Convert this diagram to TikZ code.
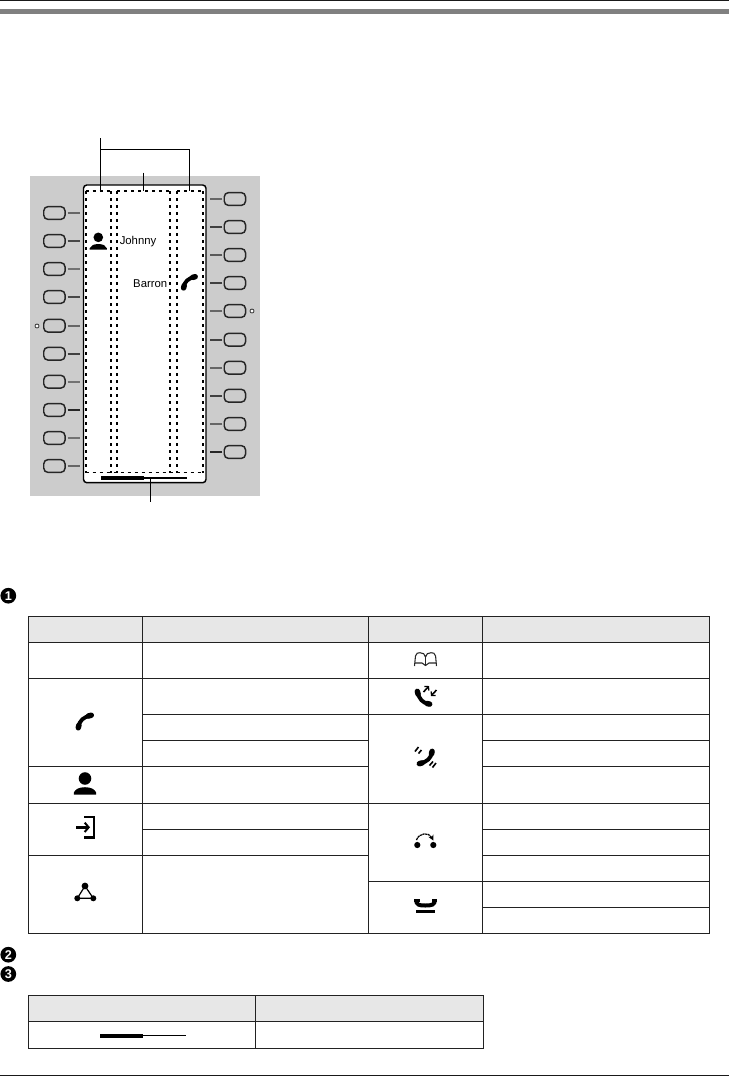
\documentclass[tikz,border=0pt]{standalone}
\usepackage{fontspec}
\setmainfont{Liberation Sans}
\usetikzlibrary{arrows.meta}
\definecolor{panel}{HTML}{CCCCCC}
\definecolor{head}{HTML}{E7E7E7}
\definecolor{rule}{HTML}{222222}
\tikzset{
  btn/.style={draw=black!85,line width=1.1pt,fill=panel,rounded corners=3.2pt,minimum width=16pt,minimum height=9.6pt,inner sep=0pt},
  led/.style={line width=1.25pt},
  dots/.style={line width=1.45pt,dash pattern=on 2.6pt off 2.65pt,black},
  leader/.style={line width=0.8pt,black},
  grid/.style={line width=0.75pt,rule},
  bullet/.style={circle,fill=black,text=white,inner sep=0pt,minimum size=11.8pt,font=\fontsize{9.5}{9.5}\selectfont\bfseries},
  lab/.style={inner sep=0pt,font=\fontsize{8.5}{10}\selectfont},
  handset/.pic={
    \draw[line width=2.9pt,line cap=round] (-5.6,4.5) .. controls (-5.2,-0.5) and (-1,-4.4) .. (4.6,-5);
    \draw[line width=4.1pt,line cap=round] (-6,5.6) -- (-5.4,3.2);
    \draw[line width=4.1pt,line cap=round] (3,-4.9) -- (5.6,-5.6);
  },
  person/.pic={
    \fill (0,-#1*0.6) circle (#1*0.56);
    \fill (-#1,#1*0.83) -- (-#1,#1*0.66) .. controls (-#1*0.85,#1*0.35) and (-#1*0.55,#1*0.18) .. (0,#1*0.18) .. controls (#1*0.55,#1*0.18) and (#1*0.85,#1*0.35) .. (#1,#1*0.66) -- (#1,#1*0.83) -- cycle;
  },
}
\begin{document}
\begin{tikzpicture}[x=0.75pt,y=-0.75pt]
\useasboundingbox (0,0) rectangle (729,1076);
\fill[white] (0,0) rectangle (729,1076);
% page rules
\fill[black!90] (0,0) rectangle (729,1);
\fill[black!50] (0,9) rectangle (729,13.7);
\fill[black!90] (0,1075) rectangle (729,1076);
% panel
\fill[panel] (30,176) rectangle (260,496);
\draw[line width=1.1pt,fill=white,rounded corners=2.5pt] (83.5,185) rectangle (206,482.7);
% scroll bar
\fill[black] (101,476.2) rectangle (144,479.8);
\draw[line width=0.9pt] (144,478) -- (186.7,478);
% dashed columns
\foreach \x in {85.7,111,117,170,177,202.7} \draw[dots] (\x,191) -- (\x,472.7);
\draw[dots,line width=1.2pt] (85.7,191) -- (111,191);
\draw[dots,line width=1.2pt] (117,191) -- (170,191);
\draw[dots,line width=1.2pt] (177,191) -- (202.7,191);
\draw[dots,line width=1.1pt] (85.7,472.7) -- (202.7,472.7);
% leaders
\coordinate (l0) at (100.7,138);
\coordinate (l1) at (100.7,149.3);
\coordinate (l2) at (189.3,149.3);
\coordinate (l3) at (100.7,191);
\coordinate (l4) at (189.3,191);
\coordinate (m0) at (143.7,172.7);
\coordinate (m1) at (143.7,191);
\coordinate (b0) at (150.3,478);
\coordinate (b1) at (150.3,501.7);
\draw[leader] (l0) -- (l3);
\draw[leader] (l1) -- (l2) -- (l4);
\draw[leader] (m0) -- (m1);
\draw[leader] (b0) -- (b1);
% left keys
\foreach \i/\y/\g in {1/213/60,2/241/72,3/269/55,4/297/72,5/325.7/60,6/353.7/75,7/381.7/55,8/410/85,9/438/55,10/466/60}{
  \node[btn] (lk\i) at (54.4,\y) {};
  \coordinate (ll\i) at (67.7,\y);
  \draw[led,black!\g] (ll\i) -- (80,\y);
}
% right keys
\foreach \i/\y/\g in {1/199/60,2/227/75,3/255/65,4/283/75,5/311/60,6/339.7/75,7/367.7/60,8/395.7/75,9/424/60,10/452/85}{
  \node[btn] (rk\i) at (234.9,\y) {};
  \coordinate (rl\i) at (222.3,\y);
  \draw[led,black!\g] (rl\i) -- (210,\y);
}
\node[circle,draw=black!80,line width=0.6pt,fill=white,inner sep=0pt,minimum size=3pt] (dl) at (37,326) {};
\node[circle,draw=black!80,line width=0.6pt,fill=white,inner sep=0pt,minimum size=3pt] (dr) at (252,311) {};
% screen contents
\pic at (98.3,242.5) {person={8.6}};
\pic at (189.6,282.3) {handset};
\node[lab,anchor=west] (johnny) at (119.5,241.5) {Johnny};
\node[lab,anchor=east] (barron) at (167.5,283.5) {Barron};
% bullets
\node[bullet] (n1) at (8.3,595.7) {1};
\node[bullet] (n2) at (8.3,954.7) {2};
\node[bullet] (n3) at (8.3,974) {3};
% table 1
\fill[head] (28.3,616.3) rectangle (709.5,642.3);
\draw[grid] (28.3,616.3) rectangle (709.5,933.3);
\foreach \x in {142.3,368.3,482.3} \draw[grid] (\x,616.3) -- (\x,933.3);
\draw[grid] (28.3,642.3) -- (709.5,642.3);
\draw[grid] (28.3,678.3) -- (709.5,678.3);
\draw[grid] (28.3,766) -- (368.3,766);
\draw[grid] (28.3,803.3) -- (709.5,803.3);
\draw[grid] (28.3,855.3) -- (368.3,855.3);
\draw[grid] (142.3,714.3) -- (709.5,714.3);
\draw[grid] (142.3,740.3) -- (368.3,740.3);
\draw[grid] (142.3,829.3) -- (368.3,829.3);
\draw[grid] (482.3,740.3) -- (709.5,740.3);
\draw[grid] (482.3,766) -- (709.5,766);
\draw[grid] (482.3,829.3) -- (709.5,829.3);
\draw[grid] (482.3,855.3) -- (709.5,855.3);
\draw[grid] (368.3,881) -- (709.5,881);
\draw[grid] (482.3,907.3) -- (709.5,907.3);
% table 1 icons
\pic[scale=1.12] at (85,721.5) {handset};
\pic at (85,785.2) {person={11.2}};
% login
\draw[line width=2pt,-{Straight Barb[length=3pt,width=7pt,line width=1.5pt]}] (76,827.3) -- (90,827.3);
\draw[line width=1.8pt] (84,817.2) -- (93.8,817.2) -- (93.8,837.6) -- (84,837.6);
% conference triangle
\draw[line width=0.9pt] (85,886) -- (77.3,898.3) -- (93.3,898.3) -- cycle;
\fill (85,886) circle (3.4);
\fill (77.3,898.3) circle (3);
\fill (93.3,898.3) circle (3);
% book
\draw[line width=0.8pt,black!85] (414.5,666) -- (415.5,656) .. controls (416,653) and (418,652.7) .. (420,652.7) .. controls (423,652.7) and (425,654) .. (425.5,657) .. controls (426,654) and (428,652.7) .. (431,652.7) .. controls (433,652.7) and (435,653) .. (435.6,656) -- (436.5,666);
\draw[line width=0.8pt,black!85] (415,663) -- (422,663) -- (425.5,665.5) -- (429,663) -- (436,663);
\draw[line width=0.7pt,black!85] (425.5,657) -- (425.5,665);
% phone with arrows
\pic[rotate=90,scale=1.1] at (423.5,697.5) {handset};
\draw[line width=1.2pt,-{Straight Barb[length=2pt,width=4.5pt,line width=0.9pt]}] (423.5,692) -- (429,686);
\draw[line width=1.2pt,-{Straight Barb[length=2pt,width=4.5pt,line width=0.9pt]}] (436.5,690) -- (431,696);
% ringing phone
\pic[rotate=180,scale=1.1] at (425.5,757.5) {handset};
\draw[line width=1.2pt] (415,751.5) -- (418.5,747) (418.5,753.5) -- (421.5,750);
\draw[line width=1.2pt] (429.5,765.5) -- (433,761.5) (432.5,767.5) -- (436,763);
% pick-up arc
\fill (417.3,845) circle (3.1);
\fill (433.3,845) circle (3.1);
\draw[line width=0.9pt,dash pattern=on 1.7pt off 0.4pt,-{Stealth[length=4pt,width=4pt]}] (416.5,840) .. controls (419,832.5) and (429,832) .. (433.3,840.5);
% hook
\draw[line width=3pt] (416,899.8) .. controls (416.5,905) and (419,905.5) .. (425.3,905.5) .. controls (432,905.5) and (434.5,905) .. (435,899.8);
\fill (414,898.8) rectangle (419.5,901.8);
\fill (431.5,898.8) rectangle (436.7,901.8);
\fill (415.5,909.8) rectangle (434.9,913.2);
% table 2
\fill[head] (28.3,995.3) rectangle (483,1021.3);
\draw[grid] (28.3,995.3) rectangle (483,1048.3);
\draw[grid] (28.3,1021.3) -- (483,1021.3);
\draw[grid] (255.7,995.3) -- (255.7,1048.3);
\fill[black] (100,1034) rectangle (143,1038);
\draw[line width=0.8pt] (143,1035.6) -- (186,1035.6);
\end{tikzpicture}
\end{document}
